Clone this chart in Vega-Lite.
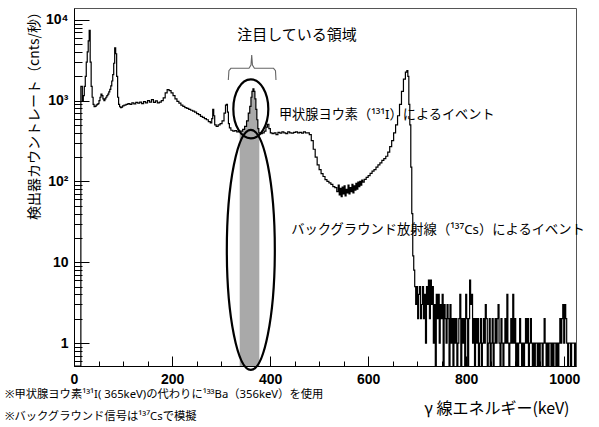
{
  "$schema": "https://vega.github.io/schema/vega-lite/v6.json",
  "width": 502,
  "height": 358,
  "autosize": {"type": "none"},
  "padding": {"left": 74, "top": 8, "right": 23, "bottom": 61},
  "background": "white",
  "config": {
    "view": {"stroke": "#555", "strokeWidth": 1},
    "font": "Noto Sans CJK JP",
    "axis": {"grid": false, "labelOverlap": false}
  },
  "resolve": {"scale": {"y": "independent"}},
  "datasets": {
    "spec": [
      {"e":0,"r":0},{"e":4,"r":0},{"e":8,"r":0},{"e":12,"r":0},{"e":16,"r":1500},{"e":18,"r":1000},{"e":20,"r":1150},{"e":22,"r":1500},
      {"e":24,"r":2000},{"e":26,"r":3000},{"e":28,"r":4000},{"e":30,"r":5500},{"e":32,"r":7400},{"e":34,"r":3000},{"e":36,"r":1500},{"e":38,"r":1100},
      {"e":40,"r":900},{"e":42,"r":840},{"e":44,"r":850},{"e":46,"r":880},{"e":48,"r":900},{"e":50,"r":920},{"e":52,"r":1000},{"e":54,"r":1100},
      {"e":56,"r":1200},{"e":58,"r":1150},{"e":60,"r":1050},{"e":62,"r":1000},{"e":64,"r":1050},{"e":66,"r":1100},{"e":68,"r":1150},{"e":70,"r":1200},
      {"e":72,"r":1280},{"e":74,"r":1380},{"e":76,"r":1520},{"e":78,"r":1750},{"e":80,"r":2100},{"e":82,"r":2900},{"e":84,"r":4500},{"e":86,"r":3800},
      {"e":88,"r":2000},{"e":90,"r":1100},{"e":92,"r":900},{"e":94,"r":840},{"e":96,"r":820},{"e":98,"r":830},{"e":100,"r":860},{"e":104,"r":880},
      {"e":108,"r":900},{"e":112,"r":920},{"e":116,"r":900},{"e":120,"r":940},{"e":124,"r":910},{"e":128,"r":950},{"e":132,"r":930},{"e":136,"r":960},
      {"e":140,"r":920},{"e":144,"r":970},{"e":148,"r":940},{"e":152,"r":1000},{"e":156,"r":960},{"e":160,"r":1030},{"e":164,"r":950},{"e":168,"r":990},
      {"e":172,"r":940},{"e":176,"r":960},{"e":180,"r":1000},{"e":184,"r":1080},{"e":188,"r":1250},{"e":192,"r":1370},{"e":196,"r":1330},{"e":200,"r":1250},
      {"e":204,"r":1150},{"e":208,"r":1050},{"e":212,"r":980},{"e":216,"r":930},{"e":220,"r":880},{"e":224,"r":850},{"e":228,"r":820},{"e":232,"r":800},
      {"e":236,"r":780},{"e":240,"r":760},{"e":244,"r":740},{"e":248,"r":720},{"e":252,"r":690},{"e":256,"r":670},{"e":260,"r":640},{"e":264,"r":620},
      {"e":268,"r":600},{"e":272,"r":580},{"e":276,"r":550},{"e":280,"r":530},{"e":282,"r":600},{"e":284,"r":780},{"e":286,"r":650},{"e":288,"r":500},
      {"e":292,"r":480},{"e":296,"r":500},{"e":300,"r":520},{"e":304,"r":560},{"e":308,"r":700},{"e":310,"r":880},{"e":312,"r":900},{"e":314,"r":720},
      {"e":316,"r":520},{"e":318,"r":460},{"e":322,"r":430},{"e":326,"r":420},{"e":330,"r":425},{"e":334,"r":410},{"e":338,"r":420},{"e":342,"r":420},
      {"e":346,"r":440},{"e":350,"r":480},{"e":354,"r":560},{"e":357,"r":700},{"e":360,"r":850},{"e":362,"r":1100},{"e":364,"r":1300},{"e":366,"r":1400},
      {"e":368,"r":1300},{"e":370,"r":1050},{"e":372,"r":780},{"e":374,"r":580},{"e":376,"r":450},{"e":378,"r":400},{"e":382,"r":390},{"e":386,"r":400},
      {"e":390,"r":420},{"e":393,"r":470},{"e":396,"r":510},{"e":399,"r":450},{"e":402,"r":400},{"e":406,"r":390},{"e":410,"r":400},{"e":414,"r":380},
      {"e":418,"r":405},{"e":422,"r":395},{"e":426,"r":410},{"e":430,"r":400},{"e":434,"r":390},{"e":438,"r":410},{"e":442,"r":400},{"e":446,"r":395},
      {"e":450,"r":405},{"e":454,"r":410},{"e":458,"r":400},{"e":462,"r":405},{"e":466,"r":395},{"e":470,"r":410},{"e":474,"r":400},{"e":478,"r":400},
      {"e":482,"r":380},{"e":486,"r":320},{"e":490,"r":250},{"e":494,"r":200},{"e":498,"r":160},{"e":502,"r":140},{"e":506,"r":125},{"e":510,"r":115},
      {"e":514,"r":105},{"e":518,"r":100},{"e":522,"r":96},{"e":526,"r":92},{"e":530,"r":86},{"e":534,"r":84},{"e":538,"r":75},{"e":540,"r":90},
      {"e":542,"r":68},{"e":544,"r":82},{"e":546,"r":65},{"e":548,"r":85},{"e":550,"r":70},{"e":552,"r":88},{"e":554,"r":66},{"e":556,"r":80},
      {"e":558,"r":72},{"e":560,"r":90},{"e":562,"r":70},{"e":564,"r":84},{"e":566,"r":75},{"e":568,"r":92},{"e":570,"r":72},{"e":572,"r":88},
      {"e":574,"r":78},{"e":576,"r":95},{"e":578,"r":80},{"e":580,"r":98},{"e":582,"r":86},{"e":584,"r":100},{"e":586,"r":90},{"e":588,"r":104},
      {"e":590,"r":98},{"e":594,"r":106},{"e":598,"r":112},{"e":602,"r":118},{"e":606,"r":126},{"e":610,"r":134},{"e":614,"r":140},{"e":618,"r":150},
      {"e":622,"r":160},{"e":626,"r":170},{"e":630,"r":182},{"e":634,"r":192},{"e":638,"r":205},{"e":642,"r":230},{"e":646,"r":270},{"e":650,"r":320},
      {"e":654,"r":400},{"e":658,"r":500},{"e":662,"r":650},{"e":666,"r":900},{"e":670,"r":1300},{"e":674,"r":1850},{"e":678,"r":2250},{"e":680,"r":2350},
      {"e":682,"r":2000},{"e":684,"r":900},{"e":686,"r":500},{"e":688,"r":150},{"e":690,"r":40},{"e":692,"r":12},
      {"e":694,"r":8},{"e":696,"r":5},{"e":698,"r":3},{"e":700,"r":5},{"e":702,"r":2},{"e":704,"r":4},{"e":706,"r":5},{"e":708,"r":2},
      {"e":710,"r":3},{"e":712,"r":5},{"e":714,"r":2},{"e":716,"r":4},{"e":718,"r":1},{"e":720,"r":5},{"e":722,"r":3},{"e":724,"r":6},
      {"e":726,"r":2},{"e":728,"r":6},{"e":730,"r":3},{"e":732,"r":5},{"e":734,"r":1},{"e":736,"r":3},{"e":738,"r":0},{"e":740,"r":4},
      {"e":742,"r":2},{"e":744,"r":4},{"e":746,"r":1},{"e":748,"r":3},{"e":750,"r":2},{"e":752,"r":4},{"e":754,"r":0},{"e":756,"r":3},
      {"e":758,"r":2},{"e":760,"r":1},{"e":762,"r":3},{"e":764,"r":2},{"e":766,"r":0},{"e":768,"r":3},{"e":770,"r":1},{"e":772,"r":2},
      {"e":774,"r":0},{"e":776,"r":2},{"e":778,"r":1},{"e":780,"r":2},{"e":782,"r":0},{"e":784,"r":1},{"e":786,"r":2},{"e":788,"r":4},
      {"e":790,"r":0},{"e":792,"r":2},{"e":794,"r":1},{"e":796,"r":2},{"e":798,"r":0},{"e":800,"r":4},{"e":802,"r":2},{"e":804,"r":0},
      {"e":806,"r":2},{"e":808,"r":6},{"e":810,"r":3},{"e":812,"r":4},{"e":814,"r":1},{"e":816,"r":2},{"e":818,"r":0},{"e":820,"r":2},
      {"e":822,"r":1},{"e":824,"r":2},{"e":826,"r":0},{"e":828,"r":1},{"e":830,"r":2},{"e":832,"r":0},{"e":834,"r":1},{"e":836,"r":2},
      {"e":838,"r":1},{"e":840,"r":3},{"e":842,"r":2},{"e":844,"r":0},{"e":846,"r":1},{"e":848,"r":2},{"e":850,"r":0},{"e":852,"r":1},
      {"e":854,"r":2},{"e":856,"r":0},{"e":858,"r":1},{"e":860,"r":2},{"e":862,"r":1},{"e":864,"r":2},{"e":866,"r":3},{"e":868,"r":1},
      {"e":870,"r":0},{"e":872,"r":2},{"e":874,"r":1},{"e":876,"r":0},{"e":878,"r":1},{"e":880,"r":2},{"e":882,"r":1},{"e":884,"r":4},
      {"e":886,"r":1},{"e":888,"r":0},{"e":890,"r":1},{"e":892,"r":2},{"e":894,"r":1},{"e":896,"r":4},{"e":898,"r":1},{"e":900,"r":2},
      {"e":902,"r":0},{"e":904,"r":1},{"e":906,"r":0},{"e":908,"r":1},{"e":910,"r":2},{"e":912,"r":1},{"e":914,"r":0},{"e":916,"r":1},
      {"e":918,"r":0},{"e":920,"r":1},{"e":922,"r":2},{"e":924,"r":1},{"e":926,"r":2},{"e":928,"r":0},{"e":930,"r":1},{"e":932,"r":2},
      {"e":934,"r":1},{"e":936,"r":0},{"e":938,"r":1},{"e":940,"r":0},{"e":942,"r":1},{"e":944,"r":1},{"e":946,"r":0},{"e":948,"r":1},
      {"e":950,"r":0},{"e":952,"r":1},{"e":954,"r":1},{"e":956,"r":0},{"e":958,"r":1},{"e":960,"r":2},{"e":962,"r":1},{"e":964,"r":0},
      {"e":966,"r":1},{"e":968,"r":0},{"e":970,"r":1},{"e":972,"r":1},{"e":974,"r":0},{"e":976,"r":1},{"e":978,"r":0},{"e":980,"r":1},
      {"e":982,"r":1},{"e":984,"r":0},{"e":986,"r":1},{"e":988,"r":0},{"e":990,"r":1},{"e":992,"r":2},{"e":994,"r":1},{"e":996,"r":2},
      {"e":998,"r":3},{"e":1000,"r":1},{"e":1002,"r":3},{"e":1004,"r":2},{"e":1006,"r":1},{"e":1008,"r":0},{"e":1010,"r":1},{"e":1012,"r":1},
      {"e":1014,"r":0},{"e":1016,"r":1},{"e":1018,"r":1},{"e":1020,"r":1},{"e":1022,"r":0},{"e":1024,"r":1}
    ],
    "bracket": [
      {"o":1,"e":314.8,"v":1803},{"o":2,"e":316,"v":2350},{"o":3,"e":320,"v":2512},{"o":4,"e":357,"v":2512},{"o":5,"e":361,"v":2750},
      {"o":6,"e":362.5,"v":3670},{"o":7,"e":364,"v":2750},{"o":8,"e":368,"v":2512},{"o":9,"e":407,"v":2512},{"o":10,"e":411,"v":2350},{"o":11,"e":412,"v":1803}
    ]
  },
  "encoding": {
    "x": {
      "field": "e", "type": "quantitative",
      "scale": {"domain": [0, 1024], "nice": false, "zero": false},
      "axis": {
        "values": [0,50,100,150,200,250,300,350,400,450,500,550,600,650,700,750,800,850,900,950,1000],
        "labelExpr": "datum.value % 200 === 0 ? datum.label : ''",
        "format": "d",
        "tickSize": {"condition": {"test": "datum.value % 200 === 0", "value": -10}, "value": -5},
        "tickColor": "black", "tickWidth": 1, "domainColor": "black",
        "labelFont": "Liberation Sans", "labelFontWeight": "bold", "labelFontSize": 14, "labelColor": "black",
        "labelPadding": 16, "labelFlush": false,
        "title": "γ 線エネルギー(keV)", "titleFont": "Noto Sans CJK JP", "titleFontSize": 16, "titleFontWeight": "normal", "titleColor": "black",
        "titleX": 495, "titleY": 42, "titleAlign": "right", "titleBaseline": "middle"
      }
    }
  },
  "layer": [
    {
      "data": {"name": "spec"},
      "transform": [{"filter": "datum.e >= 338 && datum.e <= 378"}],
      "mark": {"type": "area", "interpolate": "step", "color": "#a9a9a9", "opacity": 1},
      "encoding": {
        "y": {"field": "r", "type": "quantitative", "scale": {"type": "log", "domain": [0.52, 14000], "nice": false}, "axis": null},
        "y2": {"datum": 0.52}
      }
    },
    {
      "data": {"name": "spec"},
      "mark": {"type": "line", "interpolate": "step", "color": "black", "strokeWidth": 1.2, "clip": true},
      "encoding": {
        "y": {
          "field": "r", "type": "quantitative",
          "scale": {"type": "log", "domain": [0.52, 14000], "nice": false, "clamp": true},
          "axis": {
            "values": [0.6,0.7,0.8,0.9,1,2,3,4,5,6,7,8,9,10,20,30,40,50,60,70,80,90,100,200,300,400,500,600,700,800,900,1000,2000,3000,4000,5000,6000,7000,8000,9000,10000],
            "labelExpr": "datum.value === 10000 ? '10⁴' : datum.value === 1000 ? '10³' : datum.value === 100 ? '10²' : datum.value === 10 ? '10' : datum.value === 1 ? '1' : ''",
            "tickSize": {"condition": {"test": "datum.value === 1 || datum.value === 10 || datum.value === 100 || datum.value === 1000 || datum.value === 10000", "value": -15}, "value": -8},
            "tickColor": "black", "tickWidth": 1, "domainColor": "black",
            "labelFont": "Liberation Sans", "labelFontWeight": "bold", "labelFontSize": 14, "labelColor": "black",
            "labelPadding": 21,
            "title": "検出器カウントレート（cnts/秒）", "titleFont": "Noto Sans CJK JP", "titleFontSize": 14, "titleFontWeight": "normal", "titleColor": "black",
            "titleX": -40, "titleY": 104, "titleAngle": -90, "titleAlign": "center", "titleBaseline": "middle"
          }
        }
      }
    },
    {
      "data": {"name": "bracket"},
      "mark": {"type": "line", "color": "#666", "strokeWidth": 1.1},
      "encoding": {
        "y": {"field": "v", "type": "quantitative", "scale": {"type": "log", "domain": [0.52, 14000], "nice": false}, "axis": null},
        "order": {"field": "o"}
      }
    },
    {
      "data": {"values": [{"e": 360.7, "v": 789}]},
      "mark": {"type": "point", "shape": "M -0.593 0 A 0.593 1 0 1 0 0.593 0 A 0.593 1 0 1 0 -0.593 0 Z", "size": 3481, "filled": false, "stroke": "black", "strokeWidth": 2.2, "opacity": 1},
      "encoding": {
        "y": {"field": "v", "type": "quantitative", "scale": {"type": "log", "domain": [0.52, 14000], "nice": false}, "axis": null}
      }
    },
    {
      "data": {"values": [{"e": 360.7, "v": 14.2}]},
      "mark": {"type": "point", "shape": "M -0.2 0 A 0.2 1 0 1 0 0.2 0 A 0.2 1 0 1 0 -0.2 0 Z", "size": 57600, "filled": false, "stroke": "black", "strokeWidth": 2.2, "opacity": 1},
      "encoding": {
        "y": {"field": "v", "type": "quantitative", "scale": {"type": "log", "domain": [0.52, 14000], "nice": false}, "axis": null}
      }
    },
    {
      "data": {"values": [{"e": 455, "v": 6500, "t": "注目している領域"}]},
      "mark": {"type": "text", "font": "Noto Sans CJK JP", "fontSize": 15, "align": "center", "baseline": "middle", "color": "black"},
      "encoding": {
        "y": {"field": "v", "type": "quantitative", "scale": {"type": "log", "domain": [0.52, 14000], "nice": false}, "axis": null},
        "text": {"field": "t"}
      }
    },
    {
      "data": {"values": [{"e": 418, "v": 664, "t": "甲状腺ヨウ素（¹³¹I）によるイベント"}]},
      "mark": {"type": "text", "font": "Noto Sans, Noto Sans CJK JP", "fontSize": 13.2, "align": "left", "baseline": "middle", "color": "black"},
      "encoding": {
        "y": {"field": "v", "type": "quantitative", "scale": {"type": "log", "domain": [0.52, 14000], "nice": false}, "axis": null},
        "text": {"field": "t"}
      }
    },
    {
      "data": {"values": [{"e": 443, "v": 25, "t": "バックグラウンド放射線（¹³⁷Cs）によるイベント"}]},
      "mark": {"type": "text", "font": "Noto Sans, Noto Sans CJK JP", "fontSize": 13.3, "align": "left", "baseline": "middle", "color": "black"},
      "encoding": {
        "y": {"field": "v", "type": "quantitative", "scale": {"type": "log", "domain": [0.52, 14000], "nice": false}, "axis": null},
        "text": {"field": "t"}
      }
    },
    {
      "data": {"values": [
        {"e": -140.8, "v": 0.2275, "t": "※甲状腺ヨウ素¹³¹I( 365keV)の代わりに¹³³Ba（356keV）を使用"},
        {"e": -140.8, "v": 0.1216, "t": "※バックグラウンド信号は¹³⁷Csで模擬"}
      ]},
      "mark": {"type": "text", "font": "Noto Sans, Noto Sans CJK JP", "fontSize": 11.3, "align": "left", "baseline": "middle", "color": "black"},
      "encoding": {
        "y": {"field": "v", "type": "quantitative", "scale": {"type": "log", "domain": [0.52, 14000], "nice": false}, "axis": null},
        "text": {"field": "t"}
      }
    }
  ]
}
